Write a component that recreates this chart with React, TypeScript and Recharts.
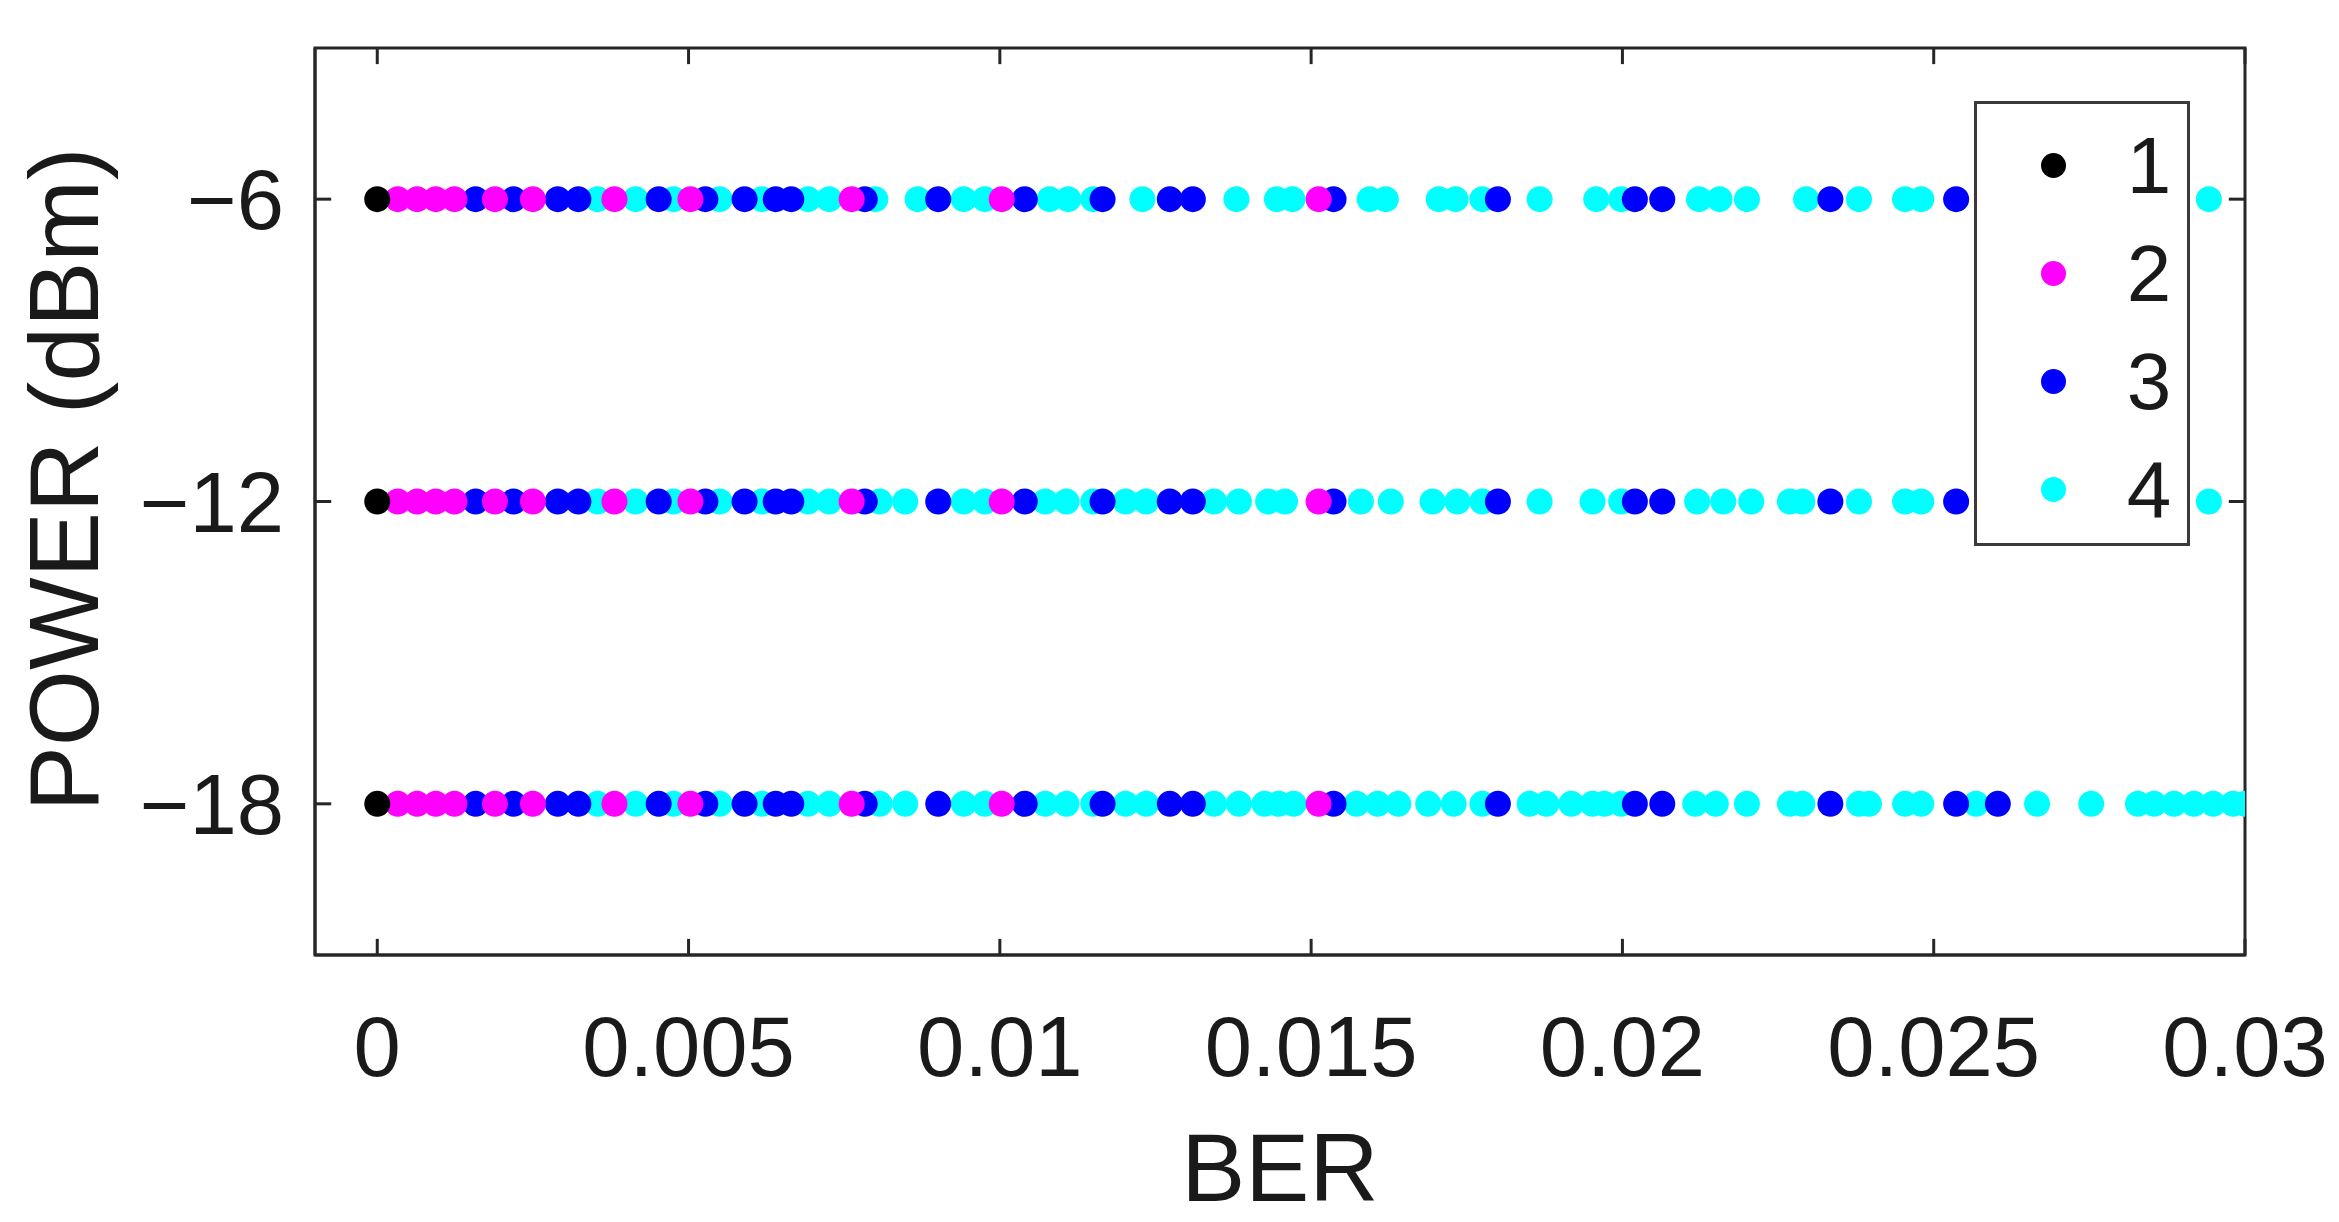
import { Label, Legend, ReferenceArea, ReferenceLine, Scatter, ScatterChart, XAxis, YAxis } from "recharts"

// power levels (dBm) where every series is measured
const POWER_LEVELS = [-6, -12, -18]
const POWER_TICKS = [-18, -12, -6]
const BER_TICKS = [0, 0.005, 0.01, 0.015, 0.02, 0.025, 0.03]
const BER_DOMAIN = [-0.001, 0.03]
const POWER_DOMAIN = [-21, -3]

const SERIES_NAMES = ["1", "2", "3", "4"]
const SERIES_COLORS = ["#000000", "#ff00ff", "#0000ff", "#00ffff"]

// series 1 and 2 sit on the same BER values at every power level
const ber1 = [0]
const ber2 = [0.00033, 0.00064, 0.00094, 0.00124, 0.00189, 0.0025, 0.00381, 0.00503, 0.00762, 0.01003, 0.01512]

// series 3: same at every level, one extra point at -18 dBm
const ber3 = [
  0.00158, 0.00219, 0.0029, 0.00323, 0.00452, 0.00527, 0.0059, 0.0064, 0.00665, 0.00783, 0.00901, 0.0104,
  0.01165, 0.01273, 0.0131, 0.01536, 0.018, 0.0202, 0.02064, 0.02334, 0.02536,
]
const ber3Extra18 = [0.02603]

// series 4 differs per power level
const ber4At6 = [
  0.00354, 0.00415, 0.00476, 0.0055, 0.00618, 0.00692, 0.00726, 0.008, 0.00868, 0.00942, 0.00976, 0.0108,
  0.0111, 0.0115, 0.01229, 0.0138, 0.01445, 0.0147, 0.01594, 0.0162, 0.01705, 0.01732, 0.01775, 0.01867,
  0.01958, 0.01998, 0.02123, 0.02156, 0.022, 0.02295, 0.0238, 0.02454, 0.0248, 0.02942,
]
const ber4At12 = [
  0.00354, 0.00415, 0.00476, 0.0055, 0.00618, 0.00692, 0.00726, 0.00807, 0.00848, 0.00942, 0.00976, 0.01073,
  0.01107, 0.0115, 0.01202, 0.01235, 0.01344, 0.01384, 0.01431, 0.01458, 0.0158, 0.01628, 0.01695, 0.01735,
  0.01775, 0.01867, 0.01952, 0.01998, 0.0212, 0.02162, 0.02207, 0.02269, 0.02289, 0.0238, 0.02454, 0.0248,
  0.02942,
]
const ber4At18 = [
  0.00354, 0.00415, 0.00476, 0.0055, 0.00618, 0.00692, 0.00726, 0.00807, 0.00848, 0.00942, 0.00976, 0.01073,
  0.01107, 0.0115, 0.01202, 0.01235, 0.01344, 0.01384, 0.01425, 0.01448, 0.01472, 0.01573, 0.01607, 0.0164,
  0.01688, 0.01729, 0.01775, 0.01851, 0.01878, 0.01918, 0.01952, 0.01971, 0.01998, 0.02117, 0.0215, 0.022,
  0.02269, 0.02289, 0.0238, 0.02396, 0.02454, 0.0248, 0.02568, 0.02666, 0.02753, 0.02828, 0.02854, 0.02886,
  0.02918, 0.02949, 0.02981, 0.03,
]

const toPoints = (bers: number[], power: number) => bers.map((ber) => ({ ber, power }))

const series1 = POWER_LEVELS.flatMap((p) => toPoints(ber1, p))
const series2 = POWER_LEVELS.flatMap((p) => toPoints(ber2, p))
const series3 = [...POWER_LEVELS.flatMap((p) => toPoints(ber3, p)), ...toPoints(ber3Extra18, -18)]
const series4 = [...toPoints(ber4At6, -6), ...toPoints(ber4At12, -12), ...toPoints(ber4At18, -18)]
const SERIES_DATA = [series1, series2, series3, series4]

const FONT = '"Liberation Sans", Arial, sans-serif'
const AXIS_COLOR = "#262626"
const TEXT_COLOR = "#1a1a1a"
const DOT_R = 13
// inward tick length, in axis units (~16px on this plot)
const X_TICK_LEN = 0.00026
const Y_TICK_LEN = 0.32

const dotShape = (color: string) => (props: any) => (
  <circle cx={props.cx} cy={props.cy} r={DOT_R} fill={color} />
)

const formatPower = (v: number) => (v < 0 ? `\u2212${Math.abs(v)}` : `${v}`)

function LegendBox() {
  return (
    <div
      style={{
        width: 216,
        height: 445,
        boxSizing: "border-box",
        border: `3px solid #3a3a3a`,
        background: "#ffffff",
        padding: "8px 0",
        fontFamily: FONT,
      }}
    >
      {SERIES_NAMES.map((name, i) => (
        <div key={name} style={{ position: "relative", height: 108 }}>
          <div
            style={{
              position: "absolute",
              left: 64,
              top: 41,
              width: 25,
              height: 25,
              borderRadius: "50%",
              background: SERIES_COLORS[i],
            }}
          />
          <div
            style={{
              position: "absolute",
              left: 140,
              width: 64,
              textAlign: "center",
              lineHeight: "108px",
              fontSize: 80,
              color: TEXT_COLOR,
            }}
          >
            {name}
          </div>
        </div>
      ))}
    </div>
  )
}

export default function App() {
  const axisLine = { stroke: AXIS_COLOR, strokeWidth: 3 }
  const tickStyle = { fill: TEXT_COLOR, fontSize: 85, fontFamily: FONT }
  const [xMin, xMax] = BER_DOMAIN
  const [yMin, yMax] = POWER_DOMAIN

  // draw 4 first so that 1 ends on top, like the reference
  const order = [3, 2, 1, 0]

  return (
    <div style={{ position: "absolute", left: 0, top: 0, width: 2339, height: 1222, background: "#fff" }}>
      <ScatterChart width={2339} height={1222} margin={{ top: 48, right: 94, bottom: 0, left: 0 }}>
        <XAxis
          type="number"
          dataKey="ber"
          domain={BER_DOMAIN}
          ticks={BER_TICKS}
          interval={0}
          allowDataOverflow
          height={267}
          axisLine={axisLine}
          tickLine={false}
          tickSize={0}
          tickMargin={61}
          tick={tickStyle}
          tickFormatter={(v: number) => String(v)}
        >
          <Label
            content={({ viewBox }: any) => (
              <text
                x={viewBox.x + viewBox.width / 2}
                y={viewBox.y + 246}
                textAnchor="middle"
                fontSize={96}
                fontFamily={FONT}
                fill={TEXT_COLOR}
              >
                BER
              </text>
            )}
          />
        </XAxis>
        <YAxis
          type="number"
          dataKey="power"
          domain={POWER_DOMAIN}
          ticks={POWER_TICKS}
          interval={0}
          allowDataOverflow
          width={315}
          axisLine={axisLine}
          tickLine={false}
          tickSize={0}
          tickMargin={31}
          tick={tickStyle}
          tickFormatter={formatPower}
        >
          <Label
            content={({ viewBox }: any) => {
              const cx = viewBox.x + 64
              const cy = viewBox.y + viewBox.height / 2 - 22
              return (
                <text
                  x={cx}
                  y={cy}
                  transform={`rotate(-90, ${cx}, ${cy})`}
                  textAnchor="middle"
                  dominantBaseline="central"
                  fontSize={98}
                  fontFamily={FONT}
                  fill={TEXT_COLOR}
                >
                  POWER (dBm)
                </text>
              )
            }}
          />
        </YAxis>
        {order.map((i) => (
          <Scatter
            key={SERIES_NAMES[i]}
            name={SERIES_NAMES[i]}
            data={SERIES_DATA[i]}
            fill={SERIES_COLORS[i]}
            shape={dotShape(SERIES_COLORS[i])}
            isAnimationActive={false}
          />
        ))}
        {/* box around the axes */}
        <ReferenceArea
          x1={xMin}
          x2={xMax}
          y1={yMin}
          y2={yMax}
          fill="none"
          fillOpacity={0}
          stroke={AXIS_COLOR}
          strokeWidth={3}
          ifOverflow="visible"
        />
        {/* inward ticks on all four sides */}
        {BER_TICKS.map((t) => (
          <ReferenceLine
            key={`xb${t}`}
            segment={[
              { x: t, y: yMin },
              { x: t, y: yMin + Y_TICK_LEN },
            ]}
            stroke={AXIS_COLOR}
            strokeWidth={3}
            ifOverflow="visible"
          />
        ))}
        {BER_TICKS.map((t) => (
          <ReferenceLine
            key={`xt${t}`}
            segment={[
              { x: t, y: yMax },
              { x: t, y: yMax - Y_TICK_LEN },
            ]}
            stroke={AXIS_COLOR}
            strokeWidth={3}
            ifOverflow="visible"
          />
        ))}
        {POWER_TICKS.map((t) => (
          <ReferenceLine
            key={`yl${t}`}
            segment={[
              { x: xMin, y: t },
              { x: xMin + X_TICK_LEN, y: t },
            ]}
            stroke={AXIS_COLOR}
            strokeWidth={3}
            ifOverflow="visible"
          />
        ))}
        {POWER_TICKS.map((t) => (
          <ReferenceLine
            key={`yr${t}`}
            segment={[
              { x: xMax, y: t },
              { x: xMax - X_TICK_LEN, y: t },
            ]}
            stroke={AXIS_COLOR}
            strokeWidth={3}
            ifOverflow="visible"
          />
        ))}
        <Legend
          layout="vertical"
          align="center"
          verticalAlign="middle"
          content={() => <LegendBox />}
          wrapperStyle={{ left: 1974, top: 101, width: 216, height: 445 }}
        />
      </ScatterChart>
    </div>
  )
}
